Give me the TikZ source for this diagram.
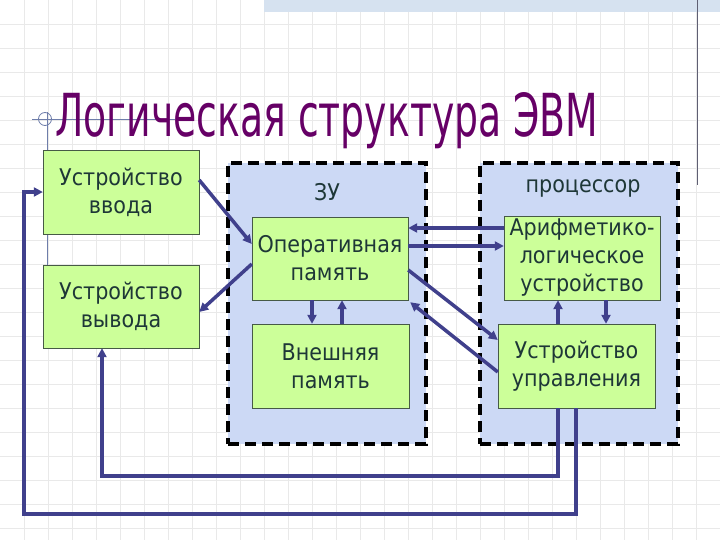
\documentclass[tikz,border=0pt]{standalone}
\usepackage{fontspec}
\usepackage{graphicx}
\setmainfont{DejaVu Sans}[FakeStretch=0.9]
\newfontfamily\titlefont{DejaVu Sans}
\usetikzlibrary{arrows.meta}
\definecolor{titlepurple}{RGB}{102,0,102}
\definecolor{textslate}{RGB}{30,55,55}
\definecolor{boxgreen}{RGB}{204,255,153}
\definecolor{boxedge}{RGB}{70,90,70}
\definecolor{groupblue}{RGB}{204,217,245}
\definecolor{linkblue}{RGB}{64,64,140}
\definecolor{gridgray}{RGB}{233,233,233}
\definecolor{bandblue}{RGB}{214,226,240}
\definecolor{ornamentblue}{RGB}{110,125,170}
\definecolor{rulegray}{RGB}{95,95,115}

\begin{document}
\begin{tikzpicture}[x=1pt, y=-1pt, >={Triangle[length=9pt, width=9pt]},
  unitbox/.style={draw=boxedge, fill=boxgreen, minimum width=156pt, minimum height=84pt,
    inner sep=0pt, text=textslate, align=center, font=\fontsize{23}{28}\selectfont},
  groupbox/.style={draw=black, line width=3.5pt, dash pattern=on 11pt off 6pt, fill=groupblue,
    minimum width=198pt, minimum height=281pt, inner sep=0pt},
  grouplabel/.style={text=textslate, font=\fontsize{23}{28}\selectfont},
  link/.style={->, linkblue, line width=3.5pt},
  gridline/.style={gridgray, line width=0.8pt},
  ornament/.style={ornamentblue, line width=0.8pt}]

% --- Background ---
\useasboundingbox (0,0) rectangle (720,540);
\fill[white] (0,0) rectangle (720,540);
\foreach \gx in {24,48,...,696} \draw[gridline] (\gx,0) -- (\gx,540);
\foreach \gy in {24,48,...,528} \draw[gridline] (0,\gy) -- (720,\gy);
\fill[bandblue] (264,0) rectangle (720,12);
\draw[rulegray, line width=0.8pt] (697,0) -- (697,185);
\draw[ornament] (32,119) -- (175,119);
\draw[ornament] (47,112) -- (47,265);
\draw[ornament] (45,119) circle (6.5);

% --- Title ---
\node[anchor=base west, inner sep=0pt, text=titlepurple] (title) at (55,137)
  {\resizebox{543pt}{44pt}{\titlefont Логическая структура ЭВМ}};

% --- Groups ---
\node[groupbox] (zu) at (327,303.5) {};
\node[grouplabel] (zulabel) at (327,192) {ЗУ};
\node[groupbox] (proc) at (579,303.5) {};
\node[grouplabel] (proclabel) at (583,188) {процессор};

% --- Units ---
\node[unitbox] (vvod) at (121,192) {Устройство\\ввода};
\node[unitbox, minimum height=83pt] (vyvod) at (121,306.5) {Устройство\\вывода};
\node[unitbox, minimum height=83pt] (op) at (330,258.5) {Оперативная\\память};
\node[unitbox, minimum width=157pt] (vp) at (330.5,366) {Внешняя\\память};
\node[unitbox] (alu) at (582,258) {Арифметико-\\логическое\\устройство};
\node[unitbox, minimum width=157pt] (uu) at (576.5,366) {Устройство\\управления};

% --- Links ---
\draw[link] ([yshift=12pt]vvod.east) -- ([yshift=14.5pt]op.west);
\draw[link] ([yshift=-5.5pt]op.west) -- ([yshift=-5.5pt]vyvod.east);
\draw[link] ([yshift=30pt]alu.west) -- ([yshift=30.5pt]op.east);
\draw[link] ([yshift=12.5pt]op.east) -- ([yshift=12pt]alu.west);
\draw[link] ([yshift=-11.5pt]op.east) -- ([yshift=26pt]uu.west);
\draw[link] ([yshift=-6pt]uu.west) -- ([xshift=2pt,yshift=-2pt]op.south east);
\draw[link] ([xshift=-18pt]op.south) -- ([xshift=-18.5pt]vp.north);
\draw[link] ([xshift=11.5pt]vp.north) -- ([xshift=12pt]op.south);
\draw[link] ([xshift=-18.5pt]uu.north) -- ([xshift=-24pt]alu.south);
\draw[link] ([xshift=24pt]alu.south) -- ([xshift=29.5pt]uu.north);

% --- Loops ---
\coordinate (loopin) at (102,476);
\coordinate (loopout) at (24,514);
\draw[link] ([xshift=-18.5pt]uu.south) |- (loopin) -- ([xshift=-19pt]vyvod.south);
\draw[link] ([xshift=-0.5pt]uu.south) |- (loopout) |- (vvod.west);

\end{tikzpicture}
\end{document}
